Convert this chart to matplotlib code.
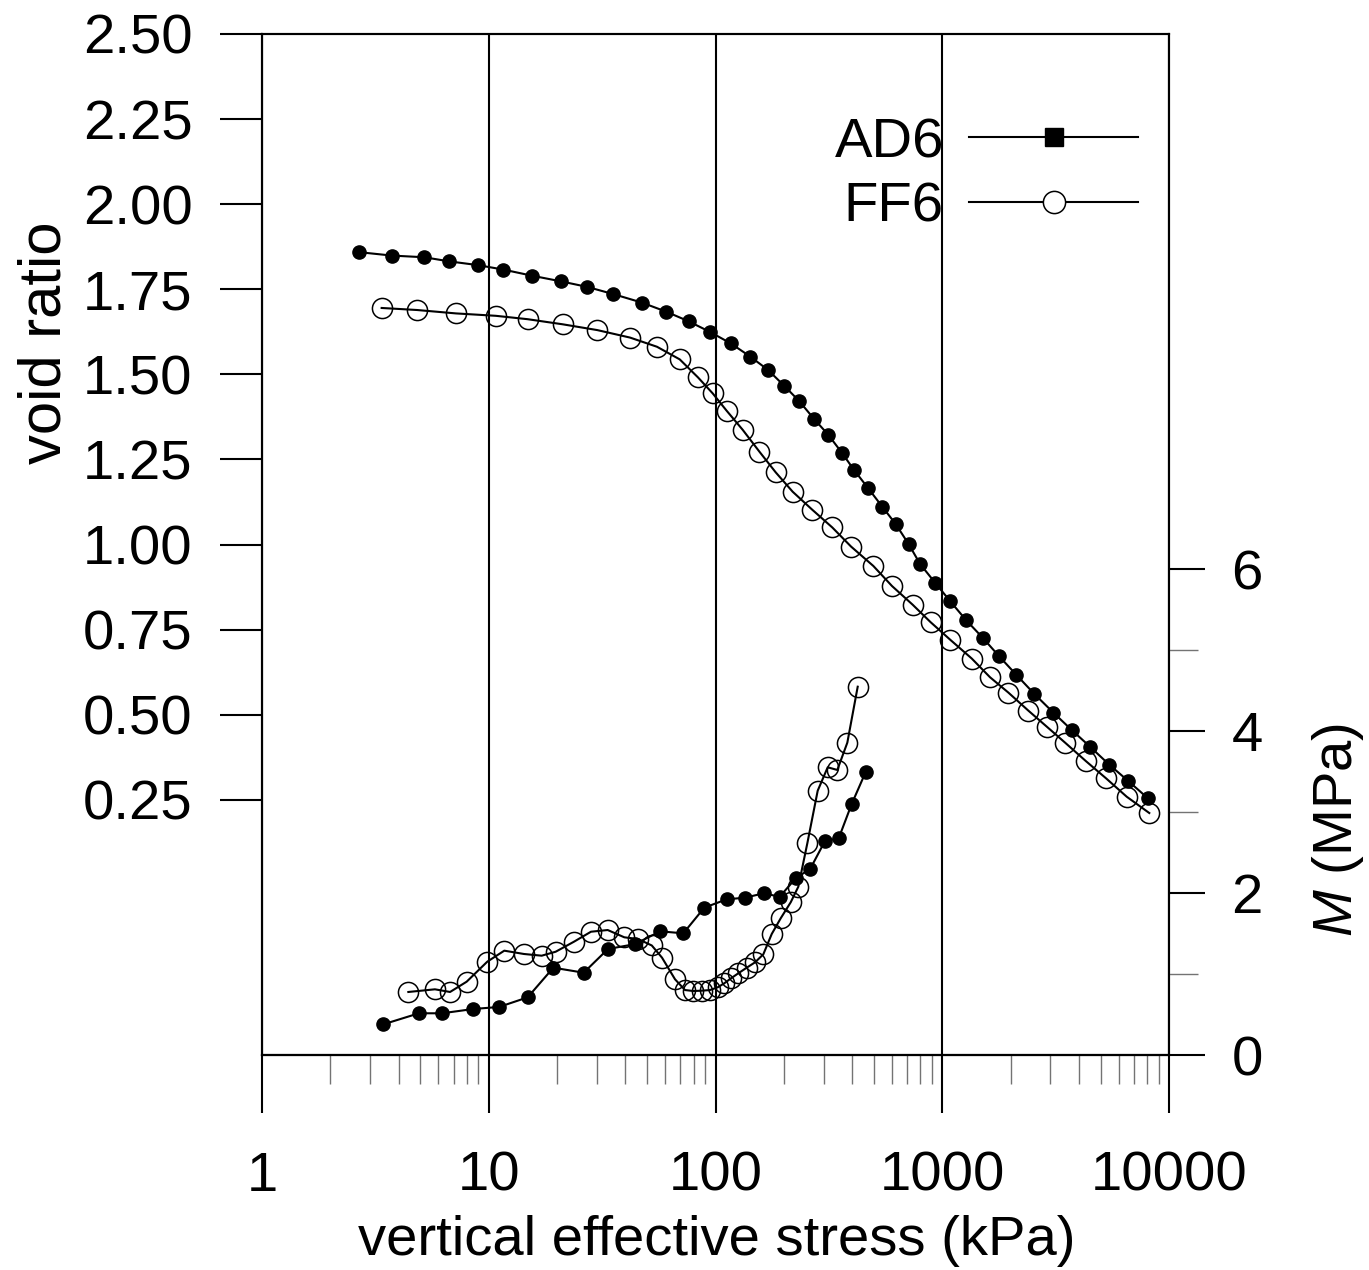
import matplotlib
matplotlib.use("Agg")
import matplotlib.pyplot as plt
from matplotlib.lines import Line2D
from matplotlib.ticker import FixedLocator, NullFormatter, FixedFormatter

plt.rcParams['font.family'] = ['Liberation Sans', 'DejaVu Sans']
plt.rcParams['mathtext.fontset'] = 'custom'
plt.rcParams['mathtext.rm'] = 'Liberation Sans'
plt.rcParams['mathtext.it'] = 'Liberation Sans:italic'

# ---------------- data ----------------
# void ratio curves (stress in kPa)
ad6_stress = [2.68, 3.73, 5.20, 6.68, 8.94, 11.56, 15.47, 20.89, 27.13, 35.32, 47.26,
              60.68, 76.02, 94.28, 116.7, 142.4, 170.4, 201.1, 233.5, 271.2, 314.6,
              361.4, 408.2, 469.2, 544.0, 623.3, 711.2, 798, 929, 1082, 1273, 1508,
              1774, 2115, 2547, 3090, 3723, 4483, 5453, 6614, 8079]
ad6_void = [1.859, 1.849, 1.844, 1.832, 1.821, 1.808, 1.790, 1.773, 1.757, 1.736, 1.711,
            1.684, 1.656, 1.625, 1.591, 1.552, 1.513, 1.466, 1.422, 1.370, 1.322,
            1.269, 1.219, 1.167, 1.111, 1.060, 1.001, 0.943, 0.888, 0.834, 0.778, 0.726,
            0.673, 0.618, 0.561, 0.506, 0.455, 0.406, 0.353, 0.305, 0.254]

ff6_stress = [3.37, 4.83, 7.17, 10.73, 14.85, 21.19, 30.11, 41.98, 55.21, 69.53, 83.71,
              97.2, 112.0, 131.8, 156.1, 184.3, 219.0, 267.3, 327.5, 396.0, 496.6,
              600.3, 740.7, 887.7, 1085, 1349, 1624, 1956, 2396, 2888, 3478, 4292,
              5276, 6507, 8186]
ff6_void = [1.695, 1.689, 1.679, 1.672, 1.662, 1.647, 1.630, 1.608, 1.581, 1.544, 1.491,
            1.444, 1.393, 1.337, 1.273, 1.212, 1.155, 1.102, 1.050, 0.994, 0.937,
            0.878, 0.823, 0.772, 0.720, 0.665, 0.610, 0.565, 0.512, 0.465, 0.418, 0.364,
            0.313, 0.259, 0.211]

# constrained modulus curves (MPa)
ad6_m_stress = [3.43, 4.92, 6.22, 8.55, 11.10, 14.85, 19.27, 26.22, 33.57, 44.01, 57.10,
                72.11, 89.24, 112.0, 134.9, 163.1, 191.9, 225.8, 261.9, 304.0, 349.4,
                398.7, 459.6]
ad6_m = [0.379, 0.515, 0.515, 0.568, 0.593, 0.712, 1.078, 1.016, 1.309, 1.368, 1.527,
         1.502, 1.819, 1.922, 1.942, 1.996, 1.954, 2.181, 2.300, 2.642, 2.675,
         3.099, 3.494]

ff6_m_stress = [4.42, 5.79, 6.75, 7.99, 9.85, 11.71, 14.30, 17.12, 19.73, 23.77, 28.24,
                33.46, 39.61, 45.52, 52.37, 58.08, 66.29, 73.37, 79.83, 86.93, 94.56,
                102.3, 109.3, 117.1, 126.1, 137.3, 149.4, 162.5, 177.0, 193.9, 214.6,
                231.9, 254.1, 282.3, 312.5, 344.5, 381.4, 423.8]
ff6_m = [0.778, 0.811, 0.778, 0.905, 1.152, 1.288, 1.247, 1.226, 1.275, 1.399, 1.522,
         1.543, 1.453, 1.432, 1.352, 1.202, 0.935, 0.802, 0.790, 0.794, 0.802,
         0.836, 0.885, 0.947, 1.009, 1.078, 1.144, 1.243, 1.494, 1.688, 1.885,
         2.078, 2.614, 3.263, 3.552, 3.519, 3.856, 4.547]

x_ticks = [1, 10, 100, 1000, 10000]
x_ticklabels = ['1', '10', '100', '1000', '10000']
e_ticks = [0.25, 0.50, 0.75, 1.00, 1.25, 1.50, 1.75, 2.00, 2.25, 2.50]
e_ticklabels = ['0.25', '0.50', '0.75', '1.00', '1.25', '1.50', '1.75', '2.00', '2.25', '2.50']
m_ticks = [0, 2, 4, 6]
m_minor = [1, 3, 5]
labels = ['AD6', 'FF6']

# ---------------- figure ----------------
W, H = 1369, 1270
fig = plt.figure(figsize=(W / 100, H / 100), dpi=100)
L, R, T, B = 262, 1169, 34, 1055
ax = fig.add_axes([L / W, 1 - B / H, (R - L) / W, (B - T) / H])
FS = 40.5
LW = 1.5

ax.set_xscale('log')
ax.set_xlim(1, 10000)
ax.set_ylim(-0.5, 2.5)
ax2 = ax.twinx()

minors = [m * 10 ** d for d in range(4) for m in range(2, 10)]
ax.xaxis.set_major_locator(FixedLocator(x_ticks))
ax.xaxis.set_major_formatter(FixedFormatter(x_ticklabels))
ax.xaxis.set_minor_locator(FixedLocator(minors))
ax.xaxis.set_minor_formatter(NullFormatter())
ax.set_yticks(e_ticks)
ax.set_yticklabels(e_ticklabels)
ax.yaxis.set_minor_locator(FixedLocator([]))

for s in ax.spines.values():
    s.set_linewidth(LW)
ax.tick_params(axis='x', which='major', direction='out', length=41.8, width=LW,
               labelsize=FS, pad=27, top=False)
ax.tick_params(axis='x', which='minor', direction='out', length=21, width=1.0,
               color='0.45', top=False)
ax.tick_params(axis='y', which='major', direction='out', length=30, width=LW,
               labelsize=FS, pad=20, right=False)
ax.grid(True, axis='x', which='major', color='black', linewidth=LW)

ax.plot(ad6_stress, ad6_void, color='black', lw=1.5, marker='o', ms=9.5,
        mfc='black', mec='black', zorder=3)
ax.plot(ff6_stress, ff6_void, color='black', lw=1.5, marker='o', ms=14.5,
        mfc='none', mec='black', mew=1.1, zorder=3)

ax2.set_ylim(0, (B - T) / 81.0)
ax2.set_yticks(m_ticks)
ax2.set_yticklabels([str(v) for v in m_ticks])
ax2.yaxis.set_minor_locator(FixedLocator(m_minor))
ax2.yaxis.set_minor_formatter(NullFormatter())
for s in ax2.spines.values():
    s.set_linewidth(LW)
ax2.tick_params(axis='y', which='major', direction='out', length=26, width=LW,
                labelsize=FS, pad=19)
ax2.tick_params(axis='y', which='minor', direction='out', length=21, width=1.0,
                color='0.45')

ax2.plot(ad6_m_stress, ad6_m, color='black', lw=1.5, marker='o', ms=9.5,
         mfc='black', mec='black', zorder=3)
ax2.plot(ff6_m_stress, ff6_m, color='black', lw=1.5, marker='o', ms=14.5,
         mfc='none', mec='black', mew=1.1, zorder=3)

# horizontal base line at M = 0
ax2.axhline(0, color='black', lw=LW, clip_on=False)

handles = [Line2D([], [], color='black', lw=1.5, marker='s', ms=13, mfc='black', mec='black'),
           Line2D([], [], color='black', lw=1.5, marker='o', ms=16, mfc='white', mec='black', mew=1.1)]
leg = ax2.legend(handles, labels, loc='upper right',
                 bbox_to_anchor=(1138 / W, 1 - 117 / H), bbox_transform=fig.transFigure,
                 frameon=False, fontsize=FS, markerfirst=False, handlelength=3.0,
                 handletextpad=0.45, labelspacing=0.22, borderpad=0, borderaxespad=0)

fig.text(45 / W, 1 - 343 / H, 'void ratio', rotation=90, ha='center', va='center', fontsize=43)
fig.text(1338 / W, 1 - 830 / H, '$M$ (MPa)', rotation=90, ha='center', va='center', fontsize=FS)
fig.text(717 / W, 1 - 1241 / H, 'vertical effective stress (kPa)', ha='center', va='center',
         fontsize=FS)

fig.savefig('out.png', dpi=100)
